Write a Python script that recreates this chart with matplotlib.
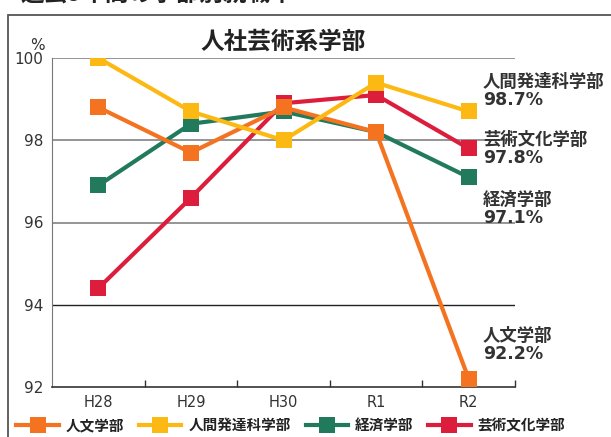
import matplotlib
matplotlib.use("Agg")
import matplotlib.pyplot as plt
from matplotlib.lines import Line2D
from matplotlib.patches import Rectangle

plt.rcParams['font.family'] = ['Noto Sans CJK JP', 'DejaVu Sans']

categories = ["H28", "H29", "H30", "R1", "R2"]
series_names = ["人文学部", "人間発達科学部", "経済学部", "芸術文化学部"]
jinbun = [98.8, 97.7, 98.8, 98.2, 92.2]
hattatsu = [100.0, 98.7, 98.0, 99.4, 98.7]
keizai = [96.9, 98.4, 98.7, 98.2, 97.1]
geijutsu = [94.4, 96.6, 98.9, 99.1, 97.8]
colors = ["#F47321", "#FDB913", "#217A5B", "#DC1E3C"]
yticks = [92, 94, 96, 98, 100]
end_names = ["人間発達科学部", "芸術文化学部", "経済学部", "人文学部"]
end_values = ["98.7%", "97.8%", "97.1%", "92.2%"]
end_label_y = [82, 140, 200, 336]  # pixel centres of first line

W, H = 611, 437
fig = plt.figure(figsize=(W / 100, H / 100), dpi=100)

# outer frame
fig.patches.append(Rectangle((8 / W, -0.1), 1.2, 1 - 15 / H + 0.1, transform=fig.transFigure,
                             fill=False, edgecolor="#555555", linewidth=1.3))
fig.text(20 / W, 1 + 5 / H, "過去5年間の学部別就職率", fontsize=17, fontweight='bold',
         color="#222222", ha='left', va='center')

ax = fig.add_axes([52 / W, 1 - 387 / H, (515 - 52) / W, (387 - 58) / H])
x = list(range(len(categories)))
data = [jinbun, hattatsu, keizai, geijutsu]
zorders = [4, 5, 3, 2]
for vals, c, z in zip(data, colors, zorders):
    ax.plot(x, vals, color=c, linewidth=3.0, marker='s', markersize=11.5,
            markeredgewidth=0, zorder=z, solid_joinstyle='miter')

ax.set_xlim(-0.5, 4.5)
ax.set_ylim(92, 100)
ax.set_yticks(yticks)
ax.set_yticklabels([str(v) for v in yticks], fontsize=11, color="#333333",
                   family=['DejaVu Sans'])
ax.tick_params(axis='y', length=0, pad=6)
ax.set_xticks(x)
ax.set_xticklabels(categories, fontsize=10.5, color="#333333", family=['DejaVu Sans'])
ax.tick_params(axis='x', which='major', length=0, pad=6)
ax.set_xticks([0.5, 1.5, 2.5, 3.5, 4.5], minor=True)
ax.tick_params(axis='x', which='minor', direction='in', length=5, color="#333333", width=1)

for v in [96, 98, 100]:
    ax.axhline(v, color="#8c8c8c", linewidth=1.3, zorder=1)
ax.axhline(94, color="#222222", linewidth=1.0, zorder=1)

for s in ['top', 'right']:
    ax.spines[s].set_visible(False)
ax.spines['left'].set_color("#777777")
ax.spines['bottom'].set_color("#333333")
ax.spines['bottom'].set_linewidth(1.2)

fig.text(37 / W, 1 - 45 / H, "%", fontsize=11, color="#333333", ha='center', va='center',
         family=['DejaVu Sans'])
fig.text(283 / W, 1 - 42 / H, "人社芸術系学部", fontsize=17, fontweight='bold',
         color="#222222", ha='center', va='center')

for name, val, yp in zip(end_names, end_values, end_label_y):
    fig.text(483 / W, 1 - yp / H, name, fontsize=12.5, fontweight='bold', color="#333333",
             ha='left', va='center')
    fig.text(483 / W, 1 - (yp + 18) / H, val, fontsize=12.5, fontweight='bold',
             color="#333333", ha='left', va='center', family=['DejaVu Sans'])

# legend
handles = [Line2D([0], [0], color=c, linewidth=3.0, marker='s', markersize=11.5,
                  markeredgewidth=0) for c in colors]
leg = fig.legend(handles, series_names, loc='center', bbox_to_anchor=(291 / W, 1 - 425 / H),
                 ncol=4, frameon=False, handlelength=2.9, columnspacing=1.0,
                 handletextpad=0.5, prop={'size': 10.5, 'weight': 'bold'})
for t in leg.get_texts():
    t.set_color("#222222")

fig.savefig("out.png", dpi=100)
